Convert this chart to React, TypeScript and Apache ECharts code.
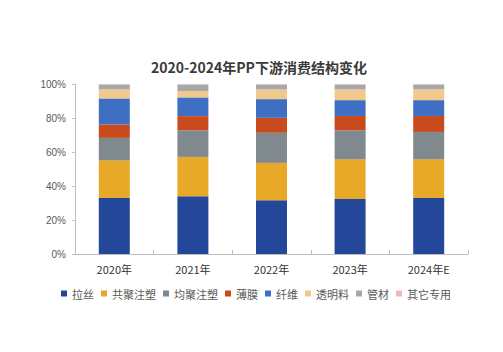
import React, { useEffect, useRef } from "react";
import * as echarts from "echarts";

const categories = ["2020年", "2021年", "2022年", "2023年", "2024年E"];
const seriesNames = ["拉丝", "共聚注塑", "均聚注塑", "薄膜", "纤维", "透明料", "管材", "其它专用"];
const lasi = [32.9, 33.9, 31.6, 32.3, 32.9];
const gongju = [22.2, 23.2, 22.0, 23.4, 22.8];
const junju = [13.2, 15.7, 17.7, 17.1, 16.1];
const bomo = [7.9, 8.3, 8.8, 8.4, 9.4];
const xianwei = [15.3, 11.0, 11.0, 9.3, 9.3];
const touming = [5.3, 3.7, 5.7, 6.3, 6.3];
const guancai = [2.9, 3.9, 2.9, 2.9, 2.9];
const qita = [0.3, 0.3, 0.3, 0.3, 0.3];
const yTicks = [0, 20, 40, 60, 80, 100];

const colors = ["#25479a", "#e8a928", "#808a8e", "#c94a1c", "#3f6fc2", "#f2c98c", "#a8a8a8", "#e9b9bb"];

export default function App() {
  const ref = useRef<HTMLDivElement>(null);
  useEffect(() => {
    if (!ref.current) return;
    const chart = echarts.init(ref.current, undefined, { renderer: "svg" });
    const data = [lasi, gongju, junju, bomo, xianwei, touming, guancai, qita];
    chart.setOption({
      animation: false,
      backgroundColor: "#ffffff",
      color: colors,
      title: {
        text: "2020-2024年PP下游消费结构变化",
        left: 151,
        top: 60,
        padding: 0,
        textStyle: {
          fontFamily: "Noto Sans CJK SC",
          fontSize: 14,
          fontWeight: "bold",
          color: "#3a3a3a",
        },
      },
      legend: {
        data: seriesNames,
        left: 61,
        top: 288,
        padding: 0,
        itemWidth: 6,
        itemHeight: 6,
        itemGap: 7,
        icon: "rect",
        textStyle: {
          fontFamily: "Noto Sans CJK SC",
          fontSize: 11,
          color: "#595959",
        },
      },
      grid: { left: 75, right: 35, top: 84, bottom: 98, containLabel: false },
      xAxis: {
        type: "category",
        data: categories,
        axisLine: { lineStyle: { color: "#bfbfbf" } },
        axisTick: { show: true, inside: true, length: 4, lineStyle: { color: "#bfbfbf" } },
        axisLabel: {
          fontFamily: "Noto Sans CJK SC",
          fontSize: 11,
          color: "#333333",
          margin: 9,
        },
      },
      yAxis: {
        type: "value",
        min: yTicks[0],
        max: yTicks[yTicks.length - 1],
        interval: 20,
        splitLine: { show: false },
        axisLine: { show: true, lineStyle: { color: "#bfbfbf" } },
        axisTick: { show: true, length: 3, lineStyle: { color: "#bfbfbf" } },
        axisLabel: {
          formatter: "{value}%",
          fontFamily: "Liberation Sans",
          fontSize: 10,
          color: "#595959",
          margin: 9,
        },
      },
      series: seriesNames.map((name, i) => ({
        name,
        type: "bar",
        stack: "total",
        barWidth: 31,
        data: data[i],
        itemStyle: { color: colors[i] },
      })),
    });
    return () => chart.dispose();
  }, []);
  return (
    <div
      ref={ref}
      style={{ position: "fixed", left: 0, top: 0, width: 503, height: 352 }}
    />
  );
}
